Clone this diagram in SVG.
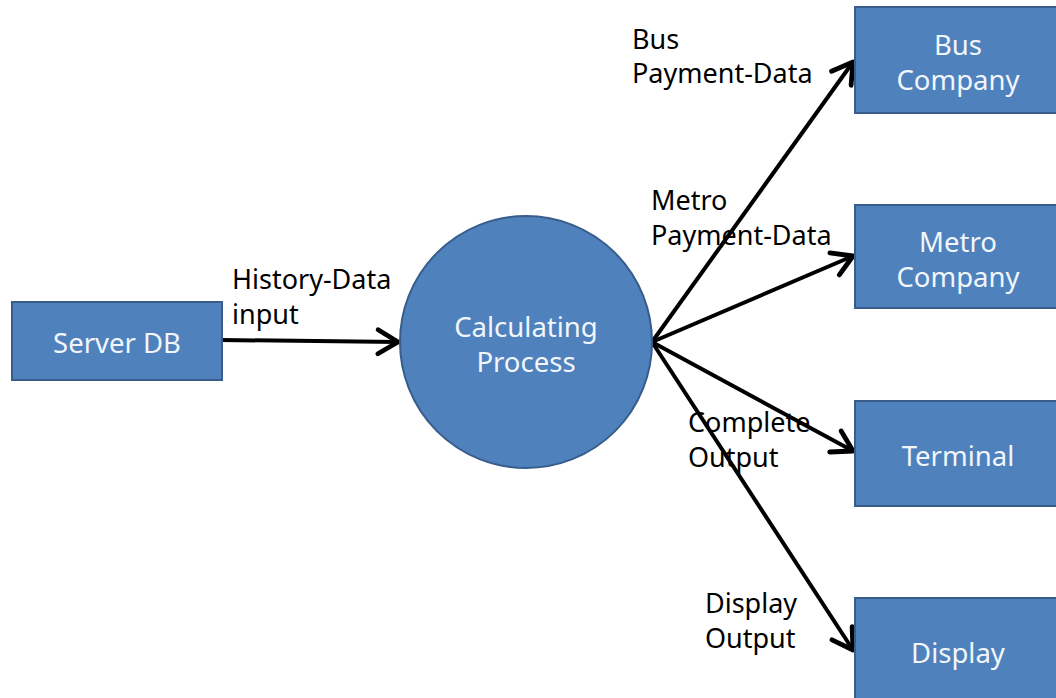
<svg xmlns="http://www.w3.org/2000/svg" width="1056" height="698" viewBox="0 0 1056 698">
<defs>
<style>
.node{fill:#4F81BD;stroke:#385D8A;stroke-width:2}
.nt{font-family:"Noto Sans","Open Sans",sans-serif;font-size:27.5px;fill:#F2F6FB;text-anchor:middle}
.lbl{font-family:"Noto Sans","Open Sans",sans-serif;font-size:27px;fill:#000}
.edge{stroke:#000;stroke-width:4;fill:none;marker-end:url(#arr)}
</style>
<marker id="arr" markerWidth="8" markerHeight="8" refX="6.5" refY="4" orient="auto" markerUnits="strokeWidth">
<polyline points="1.5,1 6.5,4 1.5,7" fill="none" stroke="#000" stroke-width="1.2" stroke-linecap="round" stroke-linejoin="round"/>
</marker>
</defs>
<rect width="1056" height="698" fill="#fff"/>
<g id="connectors">
<line class="edge" x1="222" y1="340" x2="398" y2="342"/>
<line class="edge" x1="652" y1="342" x2="853" y2="62"/>
<line class="edge" x1="652" y1="342" x2="853" y2="256"/>
<line class="edge" x1="652" y1="342" x2="853" y2="451"/>
<line class="edge" x1="652" y1="342" x2="853" y2="650"/>
</g>
<g id="server-db">
<rect class="node" x="12" y="302" width="210" height="78"/>
<text class="nt" x="117" y="353">Server DB</text>
</g>
<g id="calculating-process">
<circle class="node" cx="526" cy="342" r="126"/>
<text class="nt" x="526" y="337">Calculating</text>
<text class="nt" x="526" y="372">Process</text>
</g>
<g id="bus-company">
<rect class="node" x="855" y="7" width="206" height="106"/>
<text class="nt" x="958" y="55">Bus</text>
<text class="nt" x="958" y="90">Company</text>
</g>
<g id="metro-company">
<rect class="node" x="855" y="205" width="206" height="103"/>
<text class="nt" x="958" y="252">Metro</text>
<text class="nt" x="958" y="287">Company</text>
</g>
<g id="terminal">
<rect class="node" x="855" y="401" width="206" height="105"/>
<text class="nt" x="958" y="466">Terminal</text>
</g>
<g id="display">
<rect class="node" x="855" y="598" width="206" height="110"/>
<text class="nt" x="958" y="663">Display</text>
</g>
<g id="labels">
<text class="lbl" x="232" y="289">History-Data</text>
<text class="lbl" x="232" y="324">input</text>
<text class="lbl" x="632" y="49">Bus</text>
<text class="lbl" x="632" y="83">Payment-Data</text>
<text class="lbl" x="651" y="210">Metro</text>
<text class="lbl" x="651" y="245">Payment-Data</text>
<text class="lbl" x="688" y="432">Complete</text>
<text class="lbl" x="688" y="467">Output</text>
<text class="lbl" x="705" y="613">Display</text>
<text class="lbl" x="705" y="648">Output</text>
</g>
</svg>
